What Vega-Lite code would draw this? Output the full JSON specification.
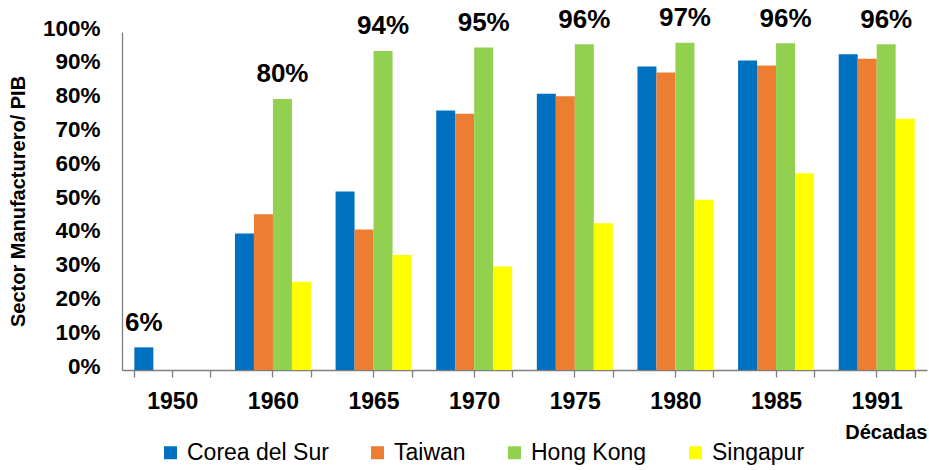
{
  "$schema": "https://vega.github.io/schema/vega-lite/v6.json",
  "width": 805,
  "height": 338,
  "autosize": {"type": "none"},
  "padding": {"left": 122, "top": 32, "right": 2, "bottom": 100},
  "background": "white",
  "config": {
    "view": {"stroke": null},
    "font": "Liberation Sans",
    "axis": {"grid": false, "labelColor": "#000000", "titleColor": "#000000", "labelFont": "Liberation Sans", "titleFont": "Liberation Sans"},
    "axisY": {"labelOverlap": false},
    "legend": {"labelFont": "Liberation Sans"}
  },
  "data": {
    "values": [
      {"year": "1950", "country": "Corea del Sur", "value": 0.067, "label": "6%"},
      {"year": "1960", "country": "Corea del Sur", "value": 0.404, "label": null},
      {"year": "1960", "country": "Taiwan", "value": 0.461, "label": null},
      {"year": "1960", "country": "Hong Kong", "value": 0.802, "label": "80%"},
      {"year": "1960", "country": "Singapur", "value": 0.261, "label": null},
      {"year": "1965", "country": "Corea del Sur", "value": 0.528, "label": null},
      {"year": "1965", "country": "Taiwan", "value": 0.416, "label": null},
      {"year": "1965", "country": "Hong Kong", "value": 0.944, "label": "94%"},
      {"year": "1965", "country": "Singapur", "value": 0.340, "label": null},
      {"year": "1970", "country": "Corea del Sur", "value": 0.768, "label": null},
      {"year": "1970", "country": "Taiwan", "value": 0.758, "label": null},
      {"year": "1970", "country": "Hong Kong", "value": 0.954, "label": "95%"},
      {"year": "1970", "country": "Singapur", "value": 0.306, "label": null},
      {"year": "1975", "country": "Corea del Sur", "value": 0.817, "label": null},
      {"year": "1975", "country": "Taiwan", "value": 0.810, "label": null},
      {"year": "1975", "country": "Hong Kong", "value": 0.964, "label": "96%"},
      {"year": "1975", "country": "Singapur", "value": 0.434, "label": null},
      {"year": "1980", "country": "Corea del Sur", "value": 0.898, "label": null},
      {"year": "1980", "country": "Taiwan", "value": 0.880, "label": null},
      {"year": "1980", "country": "Hong Kong", "value": 0.968, "label": "97%"},
      {"year": "1980", "country": "Singapur", "value": 0.504, "label": null},
      {"year": "1985", "country": "Corea del Sur", "value": 0.916, "label": null},
      {"year": "1985", "country": "Taiwan", "value": 0.901, "label": null},
      {"year": "1985", "country": "Hong Kong", "value": 0.967, "label": "96%"},
      {"year": "1985", "country": "Singapur", "value": 0.582, "label": null},
      {"year": "1991", "country": "Corea del Sur", "value": 0.934, "label": null},
      {"year": "1991", "country": "Taiwan", "value": 0.921, "label": null},
      {"year": "1991", "country": "Hong Kong", "value": 0.964, "label": "96%"},
      {"year": "1991", "country": "Singapur", "value": 0.743, "label": null}
    ]
  },
  "layer": [
    {
      "mark": {"type": "bar"},
      "encoding": {
        "x": {
          "field": "year", "type": "nominal", "sort": null,
          "scale": {"paddingInner": 0.245, "paddingOuter": 0.1225},
          "axis": {
            "orient": "bottom",
            "labelAngle": 0,
            "labelFontSize": 23, "labelFontWeight": "bold", "labelPadding": 13,
            "tickSize": 7, "tickBand": "extent", "tickColor": "#7f7f7f", "tickWidth": 1.3,
            "domainColor": "#7f7f7f", "domainWidth": 1.3,
            "title": "Décadas", "titleFontSize": 20, "titleFontWeight": "bold",
            "titleAlign": "right", "titleAnchor": "end", "titleX": 805, "titleY": 62, "titleBaseline": "middle"
          }
        },
        "xOffset": {
          "field": "country", "type": "nominal",
          "sort": ["Corea del Sur", "Taiwan", "Hong Kong", "Singapur"],
          "scale": {"domain": ["Corea del Sur", "Taiwan", "Hong Kong", "Singapur"], "paddingInner": 0, "paddingOuter": 0}
        },
        "y": {
          "field": "value", "type": "quantitative",
          "scale": {"domain": [0, 1], "nice": false},
          "axis": {
            "values": [0, 0.1, 0.2, 0.3, 0.4, 0.5, 0.6, 0.7, 0.8, 0.9, 1],
            "format": ".0%",
            "labelOverlap": false,
            "labelFontSize": 22.5, "labelFontWeight": "bold", "labelPadding": 22, "labelOffset": -4,
            "ticks": false,
            "domainColor": "#7f7f7f", "domainWidth": 1.3,
            "title": "Sector Manufacturero/ PIB", "titleFontSize": 20, "titleFontWeight": "bold",
            "titleX": -104, "titleY": 169, "titleBaseline": "middle", "titleAngle": -90, "titleAlign": "center"
          }
        },
        "color": {
          "field": "country", "type": "nominal",
          "sort": ["Corea del Sur", "Taiwan", "Hong Kong", "Singapur"],
          "scale": {"domain": ["Corea del Sur", "Taiwan", "Hong Kong", "Singapur"], "range": ["#0070C0", "#ED7D31", "#92D050", "#FFFF00"]},
          "legend": {
            "title": null, "orient": "none", "direction": "horizontal",
            "legendX": 37, "legendY": 409,
            "symbolType": "square", "symbolSize": 169, "symbolStrokeWidth": 0,
            "labelFontSize": 23, "labelOffset": 5, "labelColor": "#000000",
            "columnPadding": 37, "labelLimit": 300
          }
        }
      }
    },
    {
      "transform": [{"filter": "datum.label != null"}],
      "mark": {"type": "text", "baseline": "alphabetic", "dy": -16.5, "fontSize": 26, "fontWeight": "bold", "color": "#000000"},
      "encoding": {
        "x": {
          "field": "year", "type": "nominal", "sort": null,
          "axis": {
            "orient": "bottom", "labels": false, "domain": false, "title": null,
            "tickBand": "center", "tickSize": 7, "tickColor": "#7f7f7f", "tickWidth": 1.3
          }
        },
        "xOffset": {
          "field": "country", "type": "nominal",
          "sort": ["Corea del Sur", "Taiwan", "Hong Kong", "Singapur"]
        },
        "y": {
          "field": "value", "type": "quantitative",
          "axis": {
            "values": [0, 0.1, 0.2, 0.3, 0.4, 0.5, 0.6, 0.7, 0.8, 0.9, 1],
            "format": ".0%",
            "labelOverlap": false,
            "labelFontSize": 22.5, "labelFontWeight": "bold", "labelPadding": 22, "labelOffset": -4,
            "ticks": false,
            "domainColor": "#7f7f7f", "domainWidth": 1.3,
            "title": "Sector Manufacturero/ PIB", "titleFontSize": 20, "titleFontWeight": "bold",
            "titleX": -104, "titleY": 169, "titleBaseline": "middle", "titleAngle": -90, "titleAlign": "center"
          }
        },
        "text": {"field": "label"}
      }
    }
  ],
  "resolve": {"axis": {"x": "independent"}}
}
